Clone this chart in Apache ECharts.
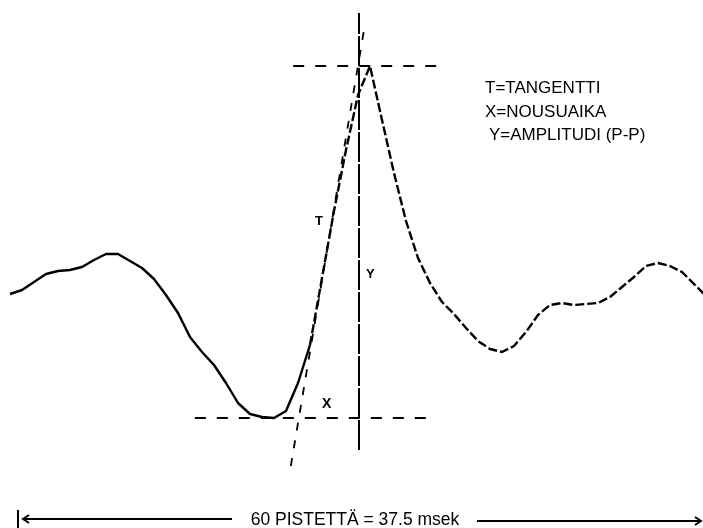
<!DOCTYPE html>
<html><head><meta charset="utf-8">
<script src="https://cdn.jsdelivr.net/npm/echarts@6/dist/echarts.min.js"></script>
<style>html,body{margin:0;padding:0;background:#fff}#c{width:703px;height:528px}</style>
</head><body><div id="c"></div>
<script>
// 60 sample points (index 0..59), amplitude relative to the trough (arbitrary units)
var pointIndex = [];
for (var k = 0; k < 60; k++) pointIndex.push(k);
var amplitude = [
  124,128,136,144,147,148,151,158,164,164,
  157,150,139,123,105,81,66,53,35,15,
  4,1,0,7,35,73,140,207,268,323,
  352,298,245,197,160,135,116,104,90,77,
  69,66,72,86,103,113,115,113,114,115,
  121,131,141,152,155,152,146,134,122,110
];
var splitIndex = 25;            // solid trace up to here, dashed after
var peakLevel = 352, troughLevel = 0;
var peakSpan = [23.6, 36.2];    // extent of the P-P dashed reference lines (in point index)
var troughSpan = [15.4, 34.8];
var amplitudeLineX = 29.1, amplitudeLineY = [-32, 405];
var tangentLine = [[23.4, -48], [29.5, 388]];
var legendLines = ['T=TANGENTTI', 'X=NOUSUAIKA', 'Y=AMPLITUDI (P-P)'];
var axisCaption = '60 PISTETTÄ = 37.5 msek';

var solid = [], dashed = [];
for (var i = 0; i < amplitude.length; i++) {
  solid.push(i <= splitIndex ? [pointIndex[i], amplitude[i]] : [pointIndex[i], null]);
  dashed.push(i >= splitIndex ? [pointIndex[i], amplitude[i]] : [pointIndex[i], null]);
}
var chart = echarts.init(document.getElementById('c'), null, {renderer: 'canvas'});
var ink = '#000';
var font = '"Liberation Sans", Arial, sans-serif';
chart.setOption({
  backgroundColor: '#fff',
  animation: false,
  grid: {left: 10, right: 0, top: 0, bottom: 0, containLabel: false, outerBoundsMode: 'none'},
  xAxis: {type: 'value', min: 0, max: 57.75, show: false},
  yAxis: {type: 'value', min: -110, max: 418, show: false},
  series: [
    {type: 'line', data: solid, showSymbol: false, connectNulls: false, clip: false,
     lineStyle: {color: ink, width: 2.4}},
    {type: 'line', data: dashed, showSymbol: false, connectNulls: false, clip: false,
     lineStyle: {color: ink, width: 2.4, type: [9, 3]},
     markLine: {
       symbol: 'none', silent: true, label: {show: false},
       lineStyle: {color: ink, width: 2, type: [11, 11]},
       data: [
         [{coord: [peakSpan[0], peakLevel]}, {coord: [peakSpan[1], peakLevel]}],
         [{coord: [troughSpan[0], troughLevel]}, {coord: [troughSpan[1], troughLevel]}],
         [{coord: [amplitudeLineX, amplitudeLineY[0]], lineStyle: {type: [30, 2], width: 2}},
          {coord: [amplitudeLineX, amplitudeLineY[1]]}],
         [{coord: tangentLine[0], lineStyle: {type: [8, 10], width: 1.8}},
          {coord: tangentLine[1]}]
       ]
     }
    }
  ],
  graphic: [
    {type: 'text', left: 485, top: 80, style: {text: legendLines[0], font: '17px ' + font, fill: ink}},
    {type: 'text', left: 485, top: 104, style: {text: legendLines[1], font: '17px ' + font, fill: ink}},
    {type: 'text', left: 489, top: 127, style: {text: legendLines[2], font: '17px ' + font, fill: ink}},
    {type: 'text', left: 315, top: 215, style: {text: 'T', font: 'bold 13px ' + font, fill: ink}},
    {type: 'text', left: 366, top: 268, style: {text: 'Y', font: 'bold 13px ' + font, fill: ink}},
    {type: 'text', left: 322, top: 397, style: {text: 'X', font: 'bold 14px ' + font, fill: ink}},
    {type: 'text', x: 355, y: 520, style: {text: axisCaption, font: '17.5px ' + font, fill: ink, align: 'center', verticalAlign: 'middle'}},
    {type: 'line', shape: {x1: 18, y1: 510, x2: 18, y2: 528}, style: {stroke: ink, lineWidth: 2}},
    {type: 'polyline', shape: {points: [[29, 515], [23, 519], [29, 523]]}, style: {stroke: ink, lineWidth: 2, fill: null}},
    {type: 'line', shape: {x1: 24, y1: 519, x2: 232, y2: 519}, style: {stroke: ink, lineWidth: 2}},
    {type: 'line', shape: {x1: 477, y1: 521, x2: 700, y2: 521}, style: {stroke: ink, lineWidth: 2}},
    {type: 'polyline', shape: {points: [[695, 517], [701, 521], [695, 525]]}, style: {stroke: ink, lineWidth: 2, fill: null}}
  ]
});
</script></body></html>
